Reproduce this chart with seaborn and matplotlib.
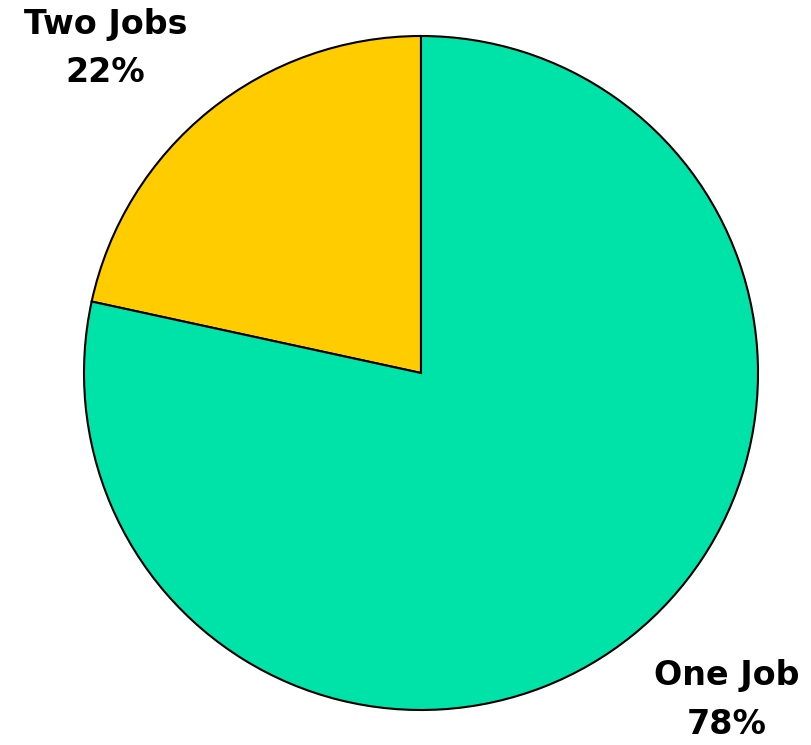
import matplotlib
matplotlib.use("Agg")
import matplotlib.pyplot as plt
import seaborn as sns

# data (slice angles; labels show rounded values)
labels = ["Two Jobs", "One Job"]
shares = [21.6, 78.4]
colors = ["#FFCC00", "#00E3A8"]

sns.set_style("white")
plt.rcParams['font.family'] = ['DejaVu Sans']

fig = plt.figure(figsize=(8.11, 7.45), dpi=100)
cx, cy, r = 421, 373, 337
ax = fig.add_axes([(cx - r) / 811, (745 - cy - r) / 745, 2 * r / 811, 2 * r / 745])

ax.pie(shares, colors=colors, startangle=90, counterclock=True, radius=1,
       wedgeprops=dict(edgecolor="black", linewidth=1.5))
ax.set_xlim(-1, 1)
ax.set_ylim(-1, 1)
ax.set_aspect("equal")
ax.axis("off")

# labels
label_pos = [(-0.936, 0.963), (0.908, -0.970)]
for lab, val, (x, y) in zip(labels, shares, label_pos):
    ax.text(x, y, f"{lab}\n{round(val)}%", ha="center", va="center", color="black",
            fontsize=24, fontweight="bold", linespacing=1.6, clip_on=False)

fig.savefig("out.png", dpi=100)
